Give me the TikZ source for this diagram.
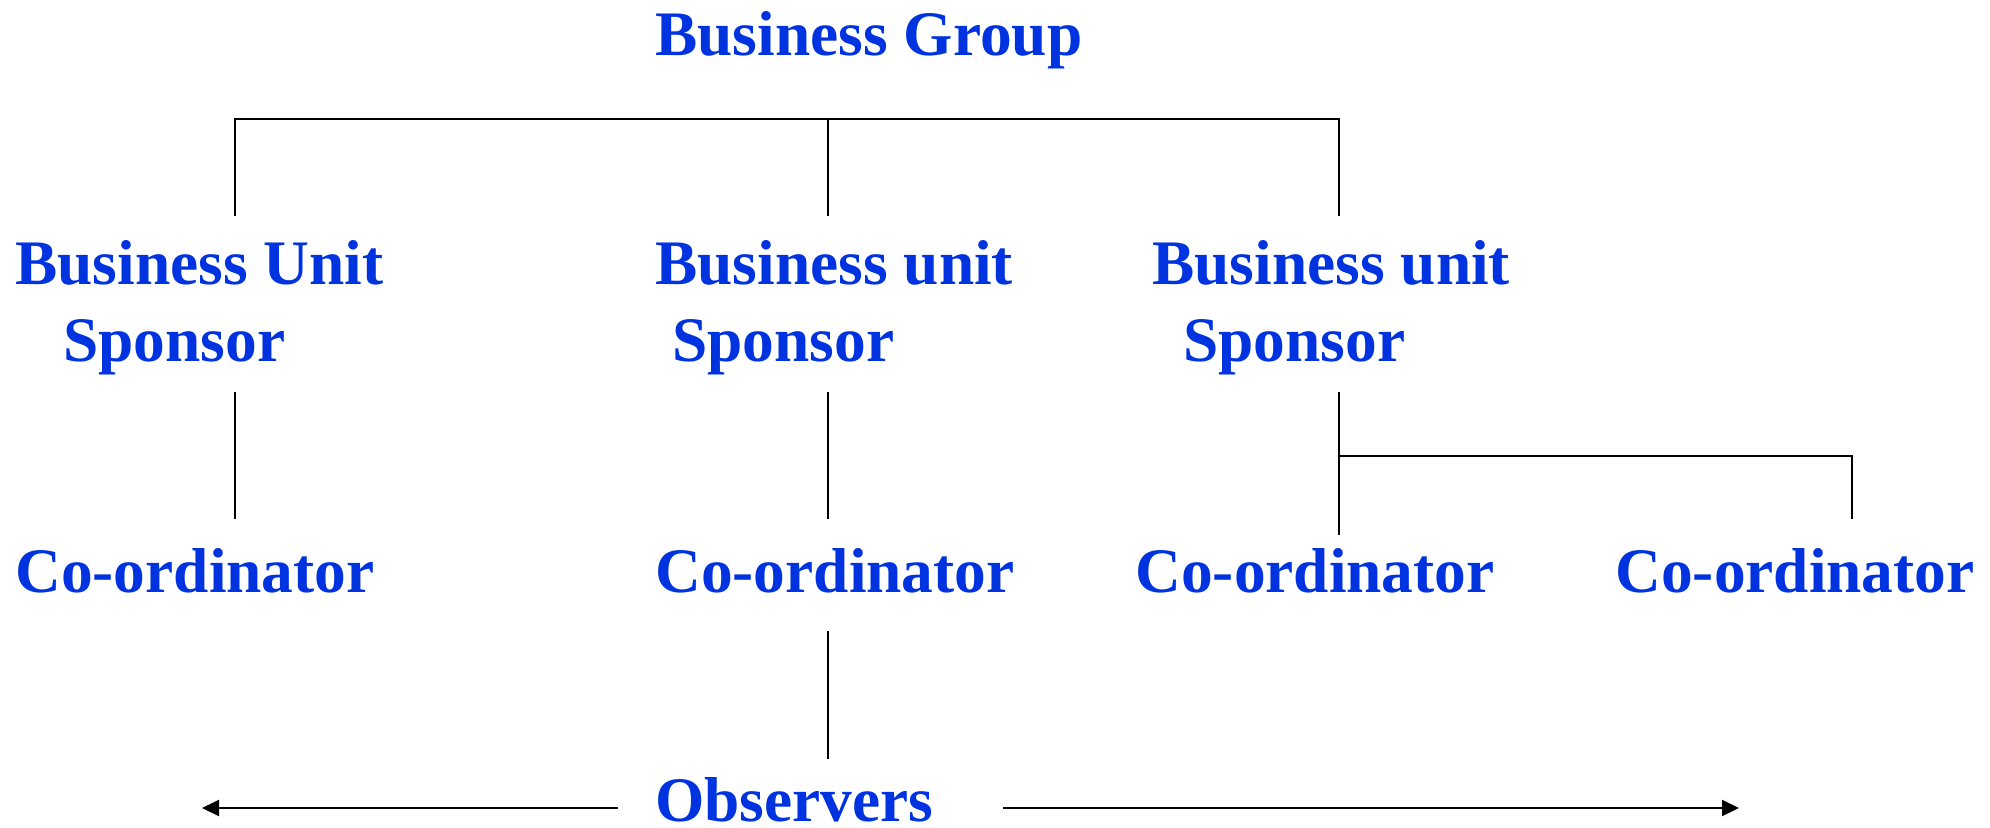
\documentclass[tikz,border=0pt]{standalone}
\usepackage{fontspec}
\setmainfont{Liberation Serif}
\usetikzlibrary{arrows.meta}
\definecolor{lblue}{RGB}{0,51,224}
\begin{document}
\begin{tikzpicture}[x=0.5pt,y=-0.5pt,
  lbl/.style={anchor=base west,inner sep=0pt,text=lblue,font=\fontsize{31.7pt}{38pt}\selectfont\bfseries},
  conn/.style={draw=black,line width=1pt},
  arr/.style={conn,-{Triangle[length=8.5pt,width=8pt]}}]
\useasboundingbox (0,0) rectangle (1990,828);
% labels
\node[lbl] (bg) at (655,56) {Business Group};
\node[lbl] (bu1) at (15,285) {Business Unit};
\node[lbl] (sp1) at (63,362) {Sponsor};
\node[lbl] (bu2) at (655,285) {Business unit};
\node[lbl] (sp2) at (672,362) {Sponsor};
\node[lbl] (bu3) at (1152,285) {Business unit};
\node[lbl] (sp3) at (1183,362) {Sponsor};
\node[lbl] (co1) at (15,592) {Co-ordinator};
\node[lbl] (co2) at (655,592) {Co-ordinator};
\node[lbl] (co3) at (1135,592) {Co-ordinator};
\node[lbl] (co4) at (1615,592) {Co-ordinator};
\node[lbl,text depth=0pt] (obs) at (655,821) {Observers};
% connector points
\coordinate (t1) at (235,119);
\coordinate (t2) at (828,119);
\coordinate (t3) at (1339,119);
\coordinate (a1) at (235,216);
\coordinate (a2) at (828,216);
\coordinate (a3) at (1339,216);
\coordinate (s1) at (235,392);
\coordinate (s2) at (828,392);
\coordinate (s3) at (1339,392);
\coordinate (c1) at (235,519);
\coordinate (c2) at (828,519);
\coordinate (c3) at (1339,535);
\coordinate (j3) at (1339,456);
\coordinate (j4) at (1852,456);
\coordinate (c4) at (1852,519);
\coordinate (o1) at (828,631);
\coordinate (o2) at (828,759);
\coordinate (la) at (618,808);
\coordinate (lt) at (202,808);
\coordinate (ra) at (1003,808);
\coordinate (rt) at (1739,808);
% connectors
\draw[conn] (a1) -- (t1) -- (t3) -- (a3);
\draw[conn] (t2) -- (a2);
\draw[conn] (s1) -- (c1);
\draw[conn] (s2) -- (c2);
\draw[conn] (s3) -- (c3);
\draw[conn] (j3) -- (j4) -- (c4);
\draw[conn] (o1) -- (o2);
\draw[arr] (la) -- (lt);
\draw[arr] (ra) -- (rt);
\end{tikzpicture}
\end{document}
